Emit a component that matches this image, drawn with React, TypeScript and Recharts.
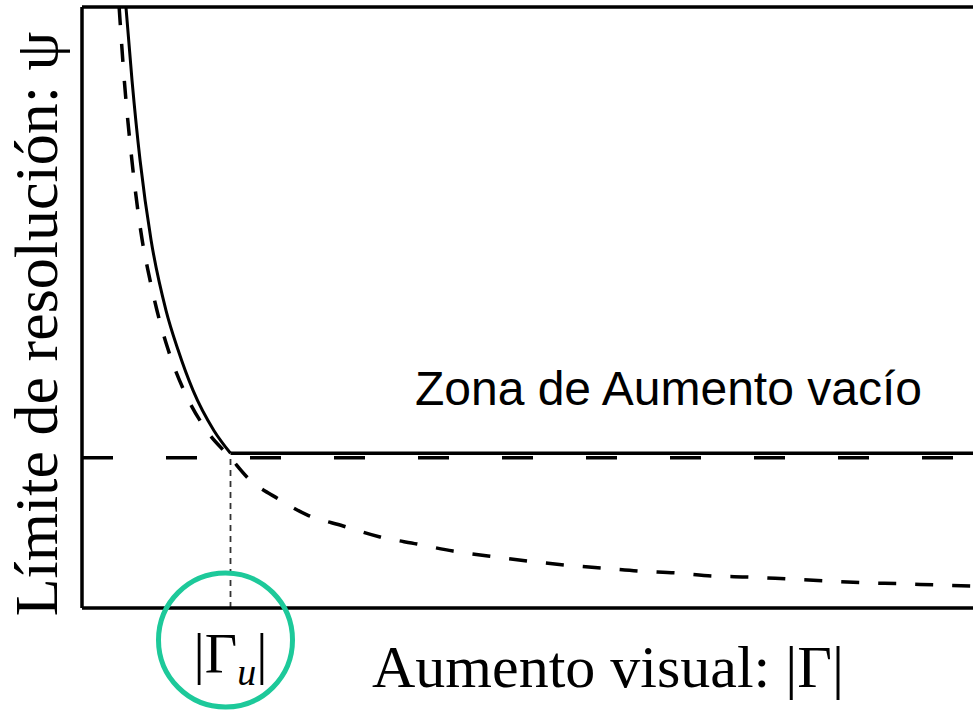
import React from 'react';
import { LineChart, Line, XAxis, YAxis, ReferenceLine, ReferenceDot } from 'recharts';

// solid curve: real resolution limit down to |Γu|
const gammaSolid = [2.96, 3.37, 3.91, 4.65, 5.66, 6.46, 7.47, 8.89, 10];
const psiSolid = [4.0, 3.51, 2.98, 2.45, 1.98, 1.72, 1.45, 1.18, 1.03];

// solid plateau after |Γu|
const gammaPlateau = [10, 60];
const psiPlateau = [1.03, 1.03];

// dashed curve (ideal limit)
const gammaDashed = [
  2.5, 2.85, 3.36, 4.05, 4.5, 5.05, 5.8, 6.85, 8.4, 10, 11.18, 13.33, 15.15, 17.58, 20.07, 22.56, 24.98,
  27.34, 29.97, 32.53, 35.02, 37.44, 40.07, 42.49, 44.98, 47.54, 50.1, 52.59, 55.08, 57.64, 60,
];
const psiDashed = [
  4.0, 3.51, 2.98, 2.45, 2.22, 1.98, 1.72, 1.45, 1.18, 1.0, 0.865, 0.72, 0.62, 0.546, 0.473, 0.426, 0.379,
  0.346, 0.313, 0.286, 0.266, 0.246, 0.233, 0.213, 0.206, 0.193, 0.18, 0.168, 0.162, 0.153, 0.146,
];

const psiLimit = 1.0;
const gammaU = 10;
const xDomain = [0, 60];
const yDomain = [0, 4];

const xLabel = 'Aumento visual: |Γ|';
const yLabel = 'Límite de resolución: ψ';
const zoneLabel = 'Zona de Aumento vacío';
const zonePos = { x: 22.42, y: 1.351 };

const toRows = (xs: number[], ys: number[]) => xs.map((x, i) => ({ x, y: ys[i] }));

const solidData = toRows(gammaSolid, psiSolid);
const plateauData = toRows(gammaPlateau, psiPlateau);
const dashedData = toRows(gammaDashed, psiDashed);

const SERIF = '"Liberation Serif", "Times New Roman", serif';

function GammaUTick(props: any) {
  const { x, y } = props;
  const base = y + 57;
  return (
    <g>
      <circle cx={x - 5} cy={y + 24} r={67} fill="none" stroke="#1dc99a" strokeWidth={5} />
      <text x={x} y={base} textAnchor="middle" fontFamily={SERIF} fontSize={56} fill="#000">
        <tspan>|Γ</tspan>
        <tspan fontStyle="italic" fontSize={38} dy={12}>u</tspan>
        <tspan dy={-12}>|</tspan>
      </text>
    </g>
  );
}

export default function App() {
  return (
    <div style={{ position: 'absolute', left: 0, top: 0, width: 973, height: 711, background: '#fff' }}>
      <LineChart width={973} height={711} margin={{ top: 7, right: 0, bottom: 0, left: 0 }}>
        <XAxis
          type="number"
          dataKey="x"
          domain={xDomain}
          allowDataOverflow
          ticks={[gammaU]}
          tickLine={false}
          tick={<GammaUTick />}
          height={103}
          axisLine={{ stroke: '#000', strokeWidth: 3.5 }}
          label={{
            content: (p: any) => (
              <text x={372} y={p.viewBox.y + 79} fontFamily={SERIF} fontSize={60} fill="#000">
                {xLabel}
              </text>
            ),
          }}
        />
        <YAxis
          type="number"
          dataKey="y"
          domain={yDomain}
          allowDataOverflow
          tick={false}
          tickLine={false}
          width={82}
          axisLine={{ stroke: '#000', strokeWidth: 3.5 }}
          label={{
            content: () => (
              <text
                transform="translate(57, 324) rotate(-90)"
                textAnchor="middle"
                fontFamily={SERIF}
                fontSize={62}
                fill="#000"
              >
                {yLabel}
              </text>
            ),
          }}
        />
        <ReferenceLine y={yDomain[1]} stroke="#000" strokeWidth={3.5} />
        <ReferenceLine y={psiLimit} stroke="#000" strokeWidth={3.5} strokeDasharray="31 53" />
        <ReferenceLine
          segment={[
            { x: gammaU, y: 0 },
            { x: gammaU, y: psiLimit },
          ]}
          stroke="#333"
          strokeWidth={1.8}
          strokeDasharray="6 5"
        />
        <Line
          data={dashedData}
          dataKey="y"
          type="monotone"
          stroke="#000"
          strokeWidth={3.5}
          strokeDasharray="18 19"
          dot={false}
          isAnimationActive={false}
        />
        <Line data={solidData} dataKey="y" type="monotone" stroke="#000" strokeWidth={3} dot={false} isAnimationActive={false} />
        <Line data={plateauData} dataKey="y" type="linear" stroke="#000" strokeWidth={3.5} dot={false} isAnimationActive={false} />
        <ReferenceDot
          x={zonePos.x}
          y={zonePos.y}
          r={0}
          fill="none"
          stroke="none"
          label={{
            content: (p: any) => (
              <text x={p.viewBox.x} y={p.viewBox.y} fontFamily='"Liberation Sans", Arial, sans-serif' fontSize={48} fill="#000">
                {zoneLabel}
              </text>
            ),
          }}
        />
      </LineChart>
    </div>
  );
}
